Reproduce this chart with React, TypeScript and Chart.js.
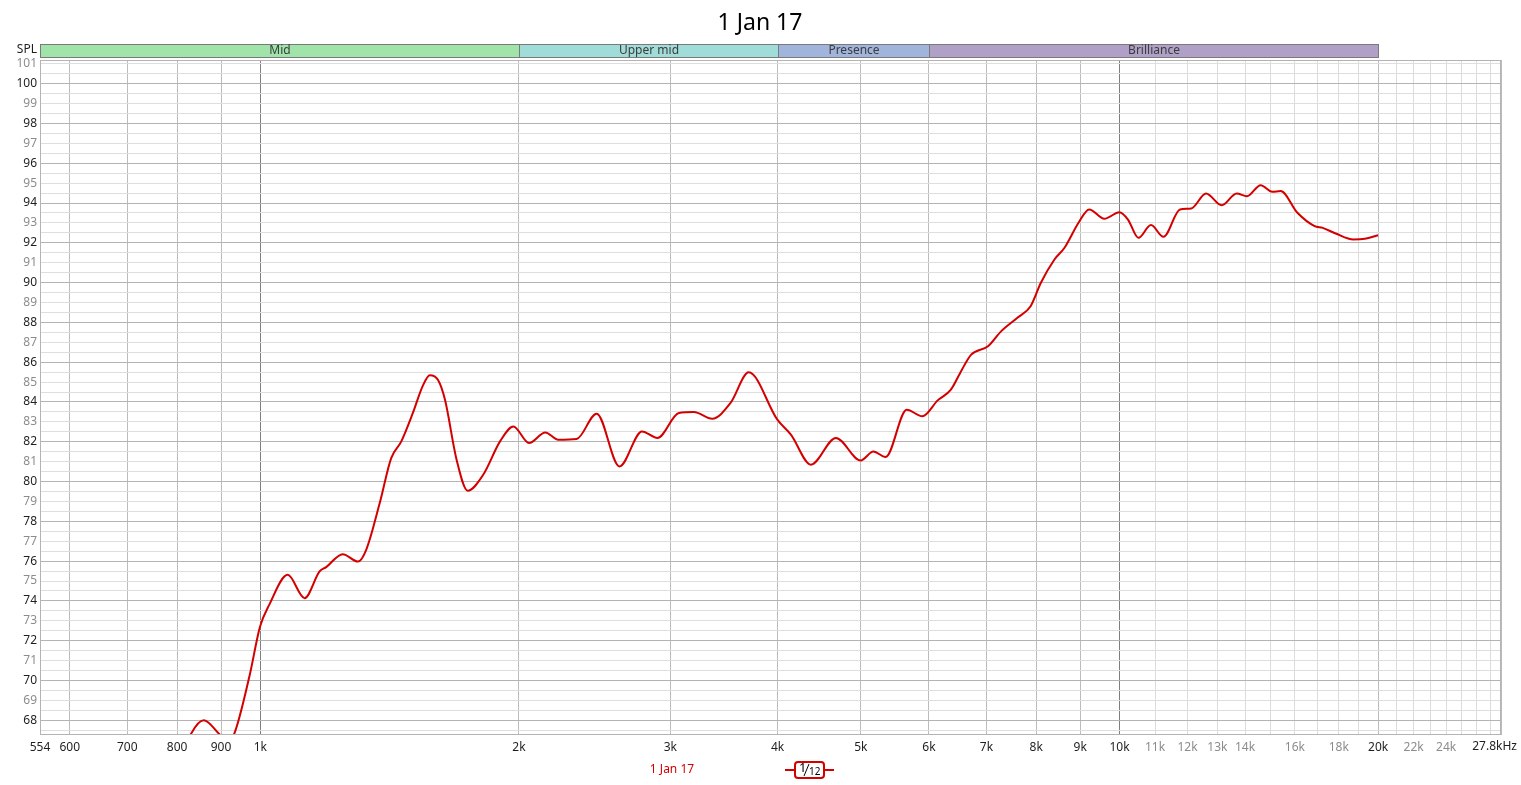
import React, { useEffect, useRef } from 'react';
import { Chart, registerables } from 'chart.js';

Chart.register(...registerables);

// ---- data ----
const chartTitle = '1 Jan 17';
const seriesName = '1 Jan 17';

const freqHz = [
  554, 650, 750, 800, 830, 859, 896, 915, 932, 971, 999, 1024, 1076, 1126, 1172, 1193, 1247, 1299, 1328,
  1377, 1420, 1459, 1505, 1545, 1575, 1610, 1640, 1692, 1743, 1817, 1901, 1970, 2055, 2146, 2222, 2334, 2463,
  2618, 2781, 2898, 3070, 3196, 3357, 3526, 3702, 3997, 4147, 4374, 4676, 4998, 5170, 5343, 5654, 5894,
  6143, 6364, 6550, 6720, 7030, 7280, 7600, 7880, 8100, 8400, 8630, 8960, 9220, 9600, 10000, 10230, 10520,
  10880, 11250, 11760, 12120, 12610, 13150, 13690, 14070, 14600, 15060, 15400, 16110, 16870, 17240, 17850,
  18720, 19300, 20000,
];
const splDb = [
  58.0, 60.0, 63.0, 65.5, 67.3, 68.0, 67.3, 66.9, 67.3, 70.2, 72.7, 73.8, 75.31, 74.14, 75.48, 75.70, 76.35,
  75.98, 76.57, 78.92, 81.18, 82.02, 83.45, 84.8, 85.34, 85.1, 84.12, 81.10, 79.54, 80.34, 82.02, 82.77, 81.94,
  82.47, 82.10, 82.14, 83.41, 80.76, 82.52, 82.19, 83.45, 83.50, 83.16, 83.95, 85.49, 83.11, 82.35, 80.85,
  82.19, 81.06, 81.51, 81.23, 83.61, 83.28, 84.08, 84.62, 85.6, 86.38, 86.80, 87.55, 88.22, 88.81, 89.99,
  91.16, 91.75, 93.01, 93.68, 93.21, 93.54, 93.17, 92.25, 92.89, 92.30, 93.68, 93.73, 94.48, 93.89, 94.48,
  94.34, 94.90, 94.57, 94.60, 93.51, 92.84, 92.75, 92.47, 92.17, 92.20, 92.38,
];

const xMin = 554;
const xMax = 27800;
const yMin = 67.31;
const yMax = 101.19;

const xTickValues = [
  554, 600, 700, 800, 900, 1000, 2000, 3000, 4000, 5000, 6000, 7000, 8000, 9000, 10000, 11000, 12000, 13000,
  14000, 15000, 16000, 17000, 18000, 19000, 20000, 21000, 22000, 23000, 24000, 25000, 26000, 27000, 27800,
];
const xTickLabels = [
  '554', '600', '700', '800', '900', '1k', '2k', '3k', '4k', '5k', '6k', '7k', '8k', '9k', '10k', '11k', '12k', '13k',
  '14k', '', '16k', '', '18k', '', '20k', '', '22k', '', '24k', '', '', '', '27.8kHz',
];
const xTickMuted = ['11k', '12k', '13k', '14k', '16k', '18k', '22k', '24k'];
const xDecades = [1000, 10000];
const xMinorFrom = 10500;

const bandNames = ['Mid', 'Upper mid', 'Presence', 'Brilliance'];
const bandEdgesHz = [554, 2000, 4000, 6000, 20000];
const bandColors = ['#a0e4aa', '#a0dcd8', '#a0b4dc', '#b0a0c8'];

const FONT = '"Noto Sans", "Open Sans", sans-serif';

const decorPlugin = {
  id: 'decor',
  afterDraw(chart: any) {
    const { ctx, chartArea, scales } = chart;
    const xs = scales.x;
    ctx.save();
    // plot border
    ctx.strokeStyle = '#b4b4b4';
    ctx.lineWidth = 1;
    ctx.strokeRect(chartArea.left + 0.5, chartArea.top + 0.5, chartArea.right - chartArea.left - 1, chartArea.bottom - chartArea.top);

    // last x label (kept inside the canvas, right aligned like the original)
    const lastLabel = xTickLabels[xTickLabels.length - 1];
    ctx.fillStyle = '#1e1e1e';
    ctx.font = `12px ${FONT}`;
    ctx.textAlign = 'right';
    ctx.textBaseline = 'middle';
    ctx.fillText(lastLabel, chartArea.right + 16, 747);

    // title
    ctx.fillStyle = '#000';
    ctx.font = `23px ${FONT}`;
    ctx.textAlign = 'center';
    ctx.textBaseline = 'middle';
    ctx.fillText(chartTitle, 760, 23);

    // SPL label
    ctx.font = `12px ${FONT}`;
    ctx.textAlign = 'right';
    ctx.fillStyle = '#1e1e1e';
    ctx.fillText('SPL', 37, 50);

    // bands
    const bTop = 44.5;
    const bBot = 57.5;
    for (let i = 0; i < bandNames.length; i++) {
      const x0 = Math.round(xs.getPixelForValue(bandEdgesHz[i])) + 0.5;
      const x1 = Math.round(xs.getPixelForValue(bandEdgesHz[i + 1])) + 0.5;
      ctx.fillStyle = bandColors[i];
      ctx.fillRect(x0, bTop, x1 - x0, bBot - bTop);
      ctx.strokeStyle = '#7a7a7a';
      ctx.strokeRect(x0, bTop, x1 - x0, bBot - bTop);
      ctx.fillStyle = '#3c3c3c';
      ctx.font = `12px ${FONT}`;
      ctx.textAlign = 'center';
      ctx.textBaseline = 'middle';
      ctx.fillText(bandNames[i], (x0 + x1) / 2, 51);
    }

    // legend
    const red = '#d40000';
    ctx.fillStyle = red;
    ctx.font = `12px ${FONT}`;
    ctx.textAlign = 'center';
    ctx.textBaseline = 'middle';
    ctx.fillText(seriesName, 672, 770);
    ctx.strokeStyle = red;
    ctx.lineWidth = 2;
    ctx.beginPath();
    ctx.moveTo(785, 770);
    ctx.lineTo(834, 770);
    ctx.stroke();
    ctx.beginPath();
    if ((ctx as any).roundRect) {
      (ctx as any).roundRect(795, 762, 29, 16, 3);
    } else {
      ctx.rect(795, 762, 29, 16);
    }
    ctx.fillStyle = '#fff';
    ctx.fill();
    ctx.stroke();
    ctx.fillStyle = '#000';
    ctx.font = `13px ${FONT}`;
    ctx.textAlign = 'left';
    ctx.fillText('1', 799, 768);
    ctx.lineWidth = 1;
    ctx.strokeStyle = '#000';
    ctx.beginPath();
    ctx.moveTo(804, 776);
    ctx.lineTo(809, 764);
    ctx.stroke();
    ctx.font = `10px ${FONT}`;
    ctx.fillText('12', 809, 772);
    ctx.restore();
  },
};

export default function App() {
  const ref = useRef<HTMLCanvasElement | null>(null);
  useEffect(() => {
    document.body.style.margin = '0';
    const canvas = ref.current;
    if (!canvas) return;
    const data = freqHz.map((f, i) => ({ x: f, y: splDb[i] }));
    const chart = new Chart(canvas, {
      type: 'line',
      data: {
        datasets: [
          {
            label: seriesName,
            data,
            borderColor: '#d40000',
            borderWidth: 2,
            pointRadius: 0,
            cubicInterpolationMode: 'monotone',
            fill: false,
          },
        ],
      },
      options: {
        animation: false,
        responsive: false,
        devicePixelRatio: 1,
        layout: { padding: { top: 60, right: 20, left: 0, bottom: 0 } },
        plugins: { legend: { display: false }, title: { display: false }, tooltip: { enabled: false } },
        scales: {
          x: {
            type: 'logarithmic',
            min: xMin,
            max: xMax,
            afterBuildTicks: (s: any) => {
              s.ticks = xTickValues.map((v) => ({ value: v }));
            },
            afterFit: (s: any) => {
              s.height = 51;
              s.paddingLeft = 0;
              s.paddingRight = 0;
            },
            border: { display: true, color: '#b4b4b4' },
            grid: {
              drawTicks: false,
              tickLength: 0,
              lineWidth: 1,
              color: (c: any) => {
                const v = c.tick ? c.tick.value : 0;
                if (xDecades.includes(v)) return '#7f7f7f';
                if (v > xMinorFrom && v !== 20000 && v !== xMax) return '#dcdcdc';
                return '#bcbcbc';
              },
            },
            ticks: {
              autoSkip: false,
              maxRotation: 0,
              minRotation: 0,
              padding: 6,
              font: { family: FONT, size: 12 },
              color: (c: any) => {
                const i = xTickValues.indexOf(c.tick ? c.tick.value : -1);
                const lab = i >= 0 ? xTickLabels[i] : '';
                return xTickMuted.includes(lab) ? '#8c8c8c' : '#1e1e1e';
              },
              callback: (v: any) => {
                const i = xTickValues.indexOf(Number(v));
                if (i === xTickValues.length - 1) return '';
                return i >= 0 ? xTickLabels[i] : '';
              },
            },
          },
          y: {
            type: 'linear',
            min: yMin,
            max: yMax,
            afterBuildTicks: (s: any) => {
              const t = [];
              for (let v = 67.5; v <= 101.01; v += 0.5) t.push({ value: Math.round(v * 2) / 2 });
              s.ticks = t;
            },
            afterFit: (s: any) => {
              s.width = 40;
              s.paddingTop = 0;
              s.paddingBottom = 0;
            },
            border: { display: true, color: '#b4b4b4' },
            grid: {
              drawTicks: false,
              tickLength: 0,
              lineWidth: 1,
              color: (c: any) => {
                const v = c.tick ? c.tick.value : 0;
                return Number.isInteger(v) && v % 2 === 0 ? '#b4b4b4' : '#dedede';
              },
            },
            ticks: {
              autoSkip: false,
              padding: 3,
              font: { family: FONT, size: 12 },
              color: (c: any) => {
                const v = c.tick ? c.tick.value : 0;
                return v % 2 === 0 ? '#1e1e1e' : '#8c8c8c';
              },
              callback: (v: any) => (Number.isInteger(Number(v)) ? String(v) : ''),
            },
          },
        },
      },
      plugins: [decorPlugin],
    });
    return () => chart.destroy();
  }, []);
  return (
    <div style={{ width: 1521, height: 785, position: 'relative' }}>
      <canvas ref={ref} width={1521} height={785} style={{ display: 'block' }} />
    </div>
  );
}
